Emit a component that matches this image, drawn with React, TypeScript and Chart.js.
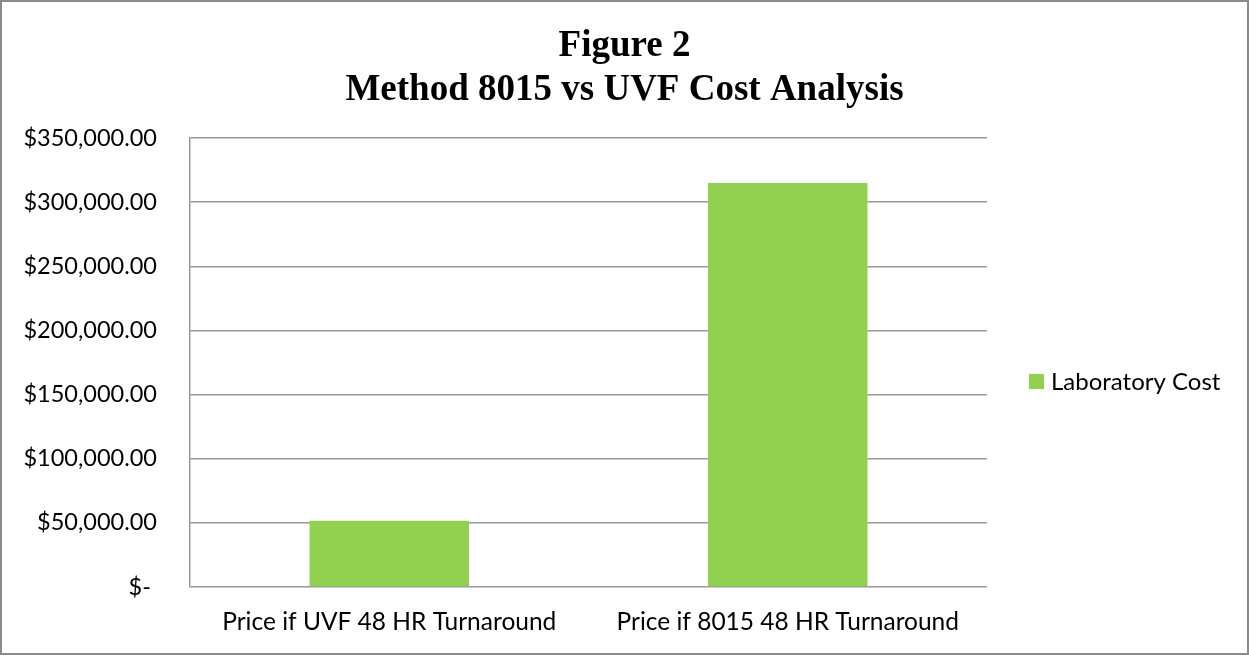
import React, { useEffect, useRef } from "react";
import { Chart, registerables } from "chart.js";

Chart.register(...registerables);

const categories = ["Price if UVF 48 HR Turnaround", "Price if 8015 48 HR Turnaround"];
const seriesName = "Laboratory Cost";
const laboratoryCost = [51600, 315000];
const titleLines = ["Figure 2", "Method 8015 vs UVF Cost Analysis"];
const yMax = 350000;
const yStep = 50000;

const W = 1249;
const H = 655;
const TICK_FONT = "Lato";

function fmtMoney(v: number): string {
  if (v === 0) return "$- ";
  return "$" + v.toLocaleString("en-US", { minimumFractionDigits: 2, maximumFractionDigits: 2 });
}

export default function App() {
  const ref = useRef<HTMLCanvasElement | null>(null);
  useEffect(() => {
    const canvas = ref.current;
    if (!canvas) return;
    const decor = {
      id: "decor",
      afterDraw(chart: any) {
        const ctx = chart.ctx;
        ctx.save();
        // title
        ctx.fillStyle = "#000";
        ctx.textAlign = "center";
        ctx.textBaseline = "alphabetic";
        ctx.font = "bold 37px 'Liberation Serif'";
        ctx.fillText(titleLines[0], W / 2, 56);
        ctx.fillText(titleLines[1], W / 2, 100);
        // legend
        const ds = chart.data.datasets[0];
        const lx = chart.chartArea.right + 42;
        const ly = 382;
        ctx.fillStyle = ds.backgroundColor;
        ctx.fillRect(lx, ly - 8, 15, 15);
        ctx.fillStyle = "#000";
        ctx.textAlign = "left";
        ctx.textBaseline = "middle";
        ctx.font = `24px ${TICK_FONT}`;
        ctx.fillText(ds.label, lx + 22, ly);
        // border
        ctx.strokeStyle = "#8a8a8a";
        ctx.lineWidth = 2;
        ctx.strokeRect(1, 1, W - 2, H - 2);
        ctx.restore();
      },
    };
    const chart = new Chart(canvas, {
      type: "bar",
      data: {
        labels: categories,
        datasets: [
          {
            label: seriesName,
            data: laboratoryCost,
            backgroundColor: "#92D050",
            barPercentage: 0.4,
            categoryPercentage: 1.0,
          },
        ],
      },
      options: {
        animation: false,
        responsive: false,
        maintainAspectRatio: false,
        layout: { padding: { top: 138, right: W - 987, left: 0, bottom: 0 } },
        plugins: {
          legend: { display: false },
          title: { display: false },
          tooltip: { enabled: false },
        },
        scales: {
          x: {
            grid: { display: false, drawTicks: false },
            border: { display: false },
            ticks: {
              color: "#000",
              font: { family: TICK_FONT, size: 24.5 },
              padding: 20,
              maxRotation: 0,
            },
            afterFit(scale: any) {
              scale.height = H - 587;
            },
          },
          y: {
            min: 0,
            max: yMax,
            grid: { color: "#9a9a9a", lineWidth: 1.5, drawTicks: false },
            border: { display: true, color: "#9a9a9a", width: 1.5 },
            ticks: {
              stepSize: yStep,
              color: "#000",
              font: { family: TICK_FONT, size: 23.5 },
              padding: 33,
              callback: (v: any) => fmtMoney(Number(v)),
            },
            afterFit(scale: any) {
              scale.width = 190;
            },
          },
        },
      },
      plugins: [decor],
    });
    return () => chart.destroy();
  }, []);
  return (
    <div style={{ position: "fixed", left: 0, top: 0, width: W, height: H, background: "#fff" }}>
      <canvas ref={ref} width={W} height={H} style={{ width: W, height: H, display: "block" }} />
    </div>
  );
}
